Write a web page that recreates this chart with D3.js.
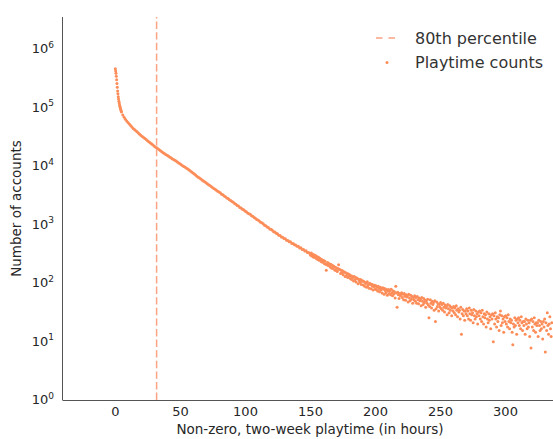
<!DOCTYPE html>
<html>
<head>
<meta charset="utf-8">
<script src="https://cdn.jsdelivr.net/npm/d3@7"></script>
<style>
  html, body { margin: 0; padding: 0; background: #fff; }
  svg { display: block; font-family: "DejaVu Sans", sans-serif; }
</style>
</head>
<body>
<svg id="chart" width="553" height="439"></svg>
<script>
// ---------- data ----------
const percentile80 = 32;            // hours
const xTicks = [0, 50, 100, 150, 200, 250, 300];
const yTicks = [1, 10, 100, 1000, 10000, 100000, 1000000];

// counts for playtime 0.25h .. 4.75h (step 0.25h)
const earlyStart = 0.25, earlyStep = 0.25;
const earlyCounts = [417000, 380000, 347000, 309000, 269000, 234000, 200000, 174000, 155000, 138000,
  126000, 116000, 108000, 101000, 95000, 90000, 86100, 82200, 78900];

// counts for playtime 5h .. 150h (step 1h)
const midStart = 5, midStep = 1;
const midCounts = [75900, 67600, 61700, 56900, 53100, 50100,
  47300, 44700, 42200, 39800, 38000, 36300, 34700, 33100, 31600, 30200,
  29000, 27800, 26700, 25600, 24500, 23600, 22600, 21700, 20800, 19950,
  19200, 18500, 17800, 17100, 16500, 15900, 15300, 14800, 14300, 13800,
  13400, 12900, 12500, 12100, 11700, 11400, 11000, 10600, 10200, 9890,
  9520, 9180, 8880, 8580, 8290, 8010, 7740, 7440, 7150, 6870,
  6600, 6330, 6050, 5830, 5620, 5420, 5220, 5040, 4850, 4680,
  4510, 4350, 4190, 4040, 3890, 3750, 3610, 3480, 3360, 3240,
  3150, 2990, 2920, 2770, 2700, 2570, 2520, 2400, 2340, 2230,
  2170, 2060, 2010, 1920, 1880, 1770, 1740, 1650, 1620, 1540,
  1500, 1430, 1380, 1350, 1280, 1250, 1190, 1160, 1100, 1080,
  1040, 990, 968, 930, 880, 865, 820, 805, 760, 748,
  720, 684, 676, 640, 628, 596, 588, 555, 548, 520,
  515, 488, 484, 458, 458, 430, 430, 408, 404, 384,
  384, 360, 362, 340, 340, 318, 322, 300, 302, 284];

// counts for playtime 150.5h .. 336h (step 0.5h)
const tailStart = 150.5, tailStep = 0.5;
const tailCounts = [
  270, 295, 262, 281, 252, 276, 248, 268, 262, 236, 255, 228, 249, 221, 241, 234, 212, 229, 205, 220,
  220, 196, 214, 190, 150, 185, 203, 181, 196, 190, 170, 189, 164, 182, 160, 177, 172, 151, 169, 148,
  164, 143, 160, 185, 155, 152, 131, 150, 136, 147, 125, 141, 138, 117, 136, 121, 131, 113, 129, 118,
  125, 108, 121, 104, 118, 112, 98, 117, 103, 112, 94, 110, 107, 88, 105, 99, 92, 104, 85, 97,
  99, 84, 96, 80, 92, 89, 77, 95, 81, 88, 74, 90, 85, 72, 86, 80, 69, 84, 78, 71,
  82, 70, 78, 66, 80, 73, 64, 77, 69, 74, 61, 75, 71, 58, 73, 67, 62, 70, 56, 66,
  70, 60, 67, 57, 71, 62, 55, 66, 59, 64, 50, 80, 61, 35, 63, 57, 49, 60, 55, 58,
  62, 51, 58, 47, 60, 54, 46, 57, 52, 55, 43, 58, 50, 45, 56, 48, 53, 41, 51, 47,
  55, 44, 51, 41, 53, 47, 40, 50, 45, 48, 37, 51, 44, 39, 49, 42, 46, 35, 45, 41,
  48, 38, 23, 36, 47, 41, 34, 44, 39, 42, 31, 45, 20, 33, 43, 36, 40, 30, 39, 35,
  42, 33, 39, 31, 41, 35, 29, 38, 34, 36, 26, 39, 33, 28, 37, 31, 35, 25, 34, 30,
  36, 28, 34, 26, 37, 31, 24, 33, 29, 31, 22, 35, 12, 27, 32, 25, 30, 21, 30, 27,
  33, 25, 30, 22, 34, 27, 21, 31, 26, 28, 19, 32, 25, 22, 30, 24, 27, 18, 29, 25,
  30, 22, 28, 20, 31, 24, 18, 27, 23, 26, 16, 29, 22, 19, 27, 21, 24, 15, 26, 22,
  27, 9, 25, 18, 28, 22, 16, 24, 20, 23, 14, 26, 30, 17, 25, 19, 22, 13, 24, 20,
  25, 18, 23, 16, 26, 20, 15, 22, 19, 21, 13, 8, 18, 16, 23, 17, 21, 12, 22, 19,
  23, 17, 21, 15, 24, 19, 14, 20, 17, 20, 12, 22, 18, 15, 21, 16, 19, 11, 21, 7,
  22, 16, 20, 14, 23, 18, 13, 19, 17, 19, 11, 21, 17, 14, 20, 15, 18, 10, 20, 16,
  22, 6, 19, 14, 28, 17, 12, 18, 24, 15, 11, 19];

const legendLabels = ["80th percentile", "Playtime counts"];

// ---------- build points ----------
function seg(start, step, counts) {
  return counts.map((c, i) => ({ h: start + i * step, c }));
}
const points = [].concat(
  seg(earlyStart, earlyStep, earlyCounts),
  seg(midStart, midStep, midCounts),
  seg(tailStart, tailStep, tailCounts)
);

// ---------- layout ----------
const ptColor = "#fc8d59";
const lineColor = "#fca383";
const textColor = "#262626";
const pL = 63, pT = 17, pB = 400, pR = 557;

const svg = d3.select("#chart");
const x = d3.scaleLinear().domain([-40, 340]).range([pL, pR]);
const y = d3.scaleLog().domain([0.906, 3.19e6]).range([pB, pT]);

svg.append("defs").append("clipPath").attr("id", "plotclip")
  .append("rect").attr("x", pL).attr("y", pT).attr("width", pR - pL).attr("height", pB - pT);

// points
svg.append("g").attr("clip-path", "url(#plotclip)")
  .selectAll("circle").data(points).join("circle")
  .attr("cx", d => x(d.h)).attr("cy", d => y(d.c))
  .attr("r", 1.5).attr("fill", ptColor);

// 80th percentile line
svg.append("line")
  .attr("x1", x(percentile80)).attr("x2", x(percentile80))
  .attr("y1", pB).attr("y2", pT)
  .attr("stroke", lineColor).attr("stroke-width", 1.5)
  .attr("stroke-dasharray", "7.4,3.2");

// axes (spines only, no tick marks)
const xAxis = d3.axisBottom(x).tickValues(xTicks).tickSize(0).tickPadding(7);
const gx = svg.append("g").attr("transform", `translate(0,${pB})`).call(xAxis);
gx.select(".domain").attr("stroke", "#555").attr("stroke-width", 1).attr("d", `M${pL},0.5H553`);
gx.selectAll("text").attr("font-size", 13).attr("fill", textColor)
  .attr("font-family", "DejaVu Sans");

const yAxis = d3.axisLeft(y).tickValues(yTicks).tickSize(0).tickFormat(() => "");
const gy = svg.append("g").attr("transform", `translate(${pL},0)`).call(yAxis);
gy.select(".domain").attr("stroke", "#555").attr("stroke-width", 1).attr("d", `M-0.5,${pT}V${pB + 0.5}`);
gy.selectAll(".tick").each(function(d) {
  const t = d3.select(this).append("text")
    .attr("x", -9).attr("y", 6.5)
    .attr("text-anchor", "end")
    .attr("fill", textColor).attr("font-size", 13)
    .attr("font-family", "DejaVu Sans");
  t.append("tspan").text("10");
  t.append("tspan").attr("font-size", 9).attr("dy", -5.5).text(Math.round(Math.log10(d)));
});

// axis titles
svg.append("text")
  .attr("x", (pL + pR) / 2).attr("y", 434)
  .attr("text-anchor", "middle").attr("font-size", 13.5).attr("fill", textColor)
  .text("Non-zero, two-week playtime (in hours)");
svg.append("text")
  .attr("transform", `translate(21,${(pT + pB) / 2}) rotate(-90)`)
  .attr("text-anchor", "middle").attr("font-size", 13.5).attr("fill", textColor)
  .text("Number of accounts");

// legend
const lg = svg.append("g");
lg.append("line").attr("x1", 376).attr("x2", 396).attr("y1", 38).attr("y2", 38)
  .attr("stroke", lineColor).attr("stroke-width", 1.5).attr("stroke-dasharray", "6.5,6");
lg.append("circle").attr("cx", 387).attr("cy", 62.5).attr("r", 1.5).attr("fill", ptColor);
lg.selectAll("text.lt").data(legendLabels).join("text").attr("class", "lt")
  .attr("x", 415).attr("y", (d, i) => 44 + i * 24)
  .attr("font-size", 16).attr("fill", "#333")
  .text(d => d);
</script>
</body>
</html>
